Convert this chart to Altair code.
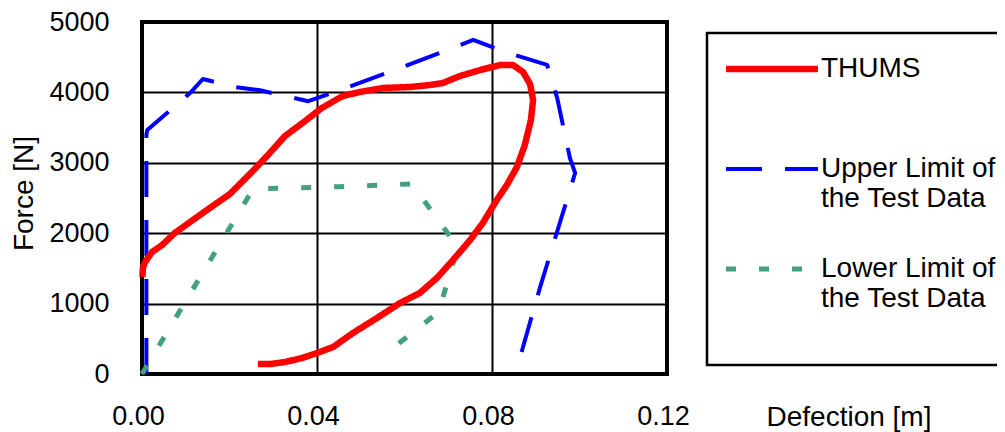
import altair as alt
import pandas as pd

series_names = ["THUMS", "Upper Limit of the Test Data", "Lower Limit of the Test Data"]
series_colors = ["#ff0000", "#0000ff", "#41a07f"]
series_dashes = [[1, 0], [36, 23], [10, 23]]
series_widths = [6.5, 4, 5]

thums_x = [0.0001, 0.0002, 0.0007, 0.0023, 0.0046, 0.0075, 0.011, 0.0155, 0.0201, 0.0251,
           0.0288, 0.0327, 0.0373, 0.0411, 0.0459, 0.0498, 0.0551, 0.0613, 0.0658, 0.0688,
           0.0727, 0.0773, 0.0818, 0.0848, 0.0871, 0.0887, 0.0894, 0.0889, 0.0875, 0.0857,
           0.0834, 0.0811, 0.0779, 0.075, 0.0711, 0.0674, 0.0635, 0.059, 0.0537, 0.0482,
           0.0437, 0.04, 0.0366, 0.0327, 0.0293, 0.0265]
thums_y = [1380, 1506, 1591, 1733, 1832, 2003, 2159, 2358, 2557, 2869,
           3111, 3381, 3594, 3779, 3949, 4006, 4063, 4077, 4105, 4134,
           4233, 4318, 4389, 4389, 4290, 4119, 3892, 3608, 3253, 2940,
           2685, 2472, 2145, 1903, 1619, 1364, 1151, 1009, 795, 582,
           384, 298, 227, 170, 142, 142]

upper_x = [0.001, 0.001, 0.0012, 0.0073, 0.0112, 0.0139, 0.0213, 0.027, 0.038, 0.046,
           0.059, 0.0757, 0.0837, 0.0926, 0.0949, 0.0978, 0.099, 0.091, 0.0862]
upper_y = [0, 3400, 3465, 3790, 4005, 4190, 4075, 4030, 3875, 4050,
           4345, 4745, 4560, 4390, 3920, 3070, 2855, 1235, 190]

lower_x = [0.0, 0.0254, 0.045, 0.0617, 0.0722, 0.0681, 0.0674, 0.0551]
lower_y = [0, 2630, 2660, 2700, 1800, 950, 860, 260]

x_ticks = [0.0, 0.04, 0.08, 0.12]
y_ticks = [0, 1000, 2000, 3000, 4000, 5000]

rows = []
for name, xs, ys in [(series_names[1], upper_x, upper_y),
                     (series_names[2], lower_x, lower_y),
                     (series_names[0], thums_x, thums_y)]:
    for i, (xv, yv) in enumerate(zip(xs, ys)):
        rows.append({"series": name, "i": i, "d": xv, "f": yv})
df = pd.DataFrame(rows)

label_expr = ("datum.label == 'THUMS' ? ['THUMS', ''] : "
              "datum.label == 'Upper Limit of the Test Data' ? ['Upper Limit of', 'the Test Data'] : "
              "['Lower Limit of', 'the Test Data', '']")

leg = alt.Legend(labelExpr=label_expr)

chart = alt.Chart(df).mark_line(strokeCap="butt", strokeJoin="round").encode(
    x=alt.X("d:Q",
            scale=alt.Scale(domain=[0, 0.12], nice=False, zero=False),
            axis=alt.Axis(values=x_ticks, format=".2f", title="Defection [m]",
                          labelFlush=False, labelOffset=-4, labelPadding=29,
                          titleX=624, titleY=29, titleAlign="left", titleBaseline="top",
                          titleAnchor="start")),
    y=alt.Y("f:Q",
            scale=alt.Scale(domain=[0, 5000], nice=False),
            axis=alt.Axis(values=y_ticks, format="d", title="Force [N]",
                          labelFlush=False, labelPadding=33,
                          titleX=-118, titleY=171, titleAngle=270,
                          titleAlign="center", titleBaseline="middle")),
    color=alt.Color("series:N", title=None,
                    scale=alt.Scale(domain=series_names, range=series_colors),
                    legend=leg),
    strokeDash=alt.StrokeDash("series:N", title=None,
                              scale=alt.Scale(domain=series_names, range=series_dashes),
                              legend=leg),
    strokeWidth=alt.StrokeWidth("series:N", title=None,
                                scale=alt.Scale(type="ordinal", domain=series_names,
                                                range=series_widths),
                                legend=leg),
    order=alt.Order("i:Q"),
).properties(
    width=525,
    height=352,
    autosize=alt.AutoSizeParams(type="none"),
    padding={"left": 134, "top": 14, "right": 330, "bottom": 58},
).configure_view(
    stroke="black", strokeWidth=4
).configure_axis(
    grid=True, gridColor="black", gridWidth=2, gridOpacity=1,
    domain=False, ticks=False,
    labelFont="Liberation Sans", labelFontSize=27, labelColor="black",
    titleFont="Liberation Sans", titleFontSize=28, titleFontWeight="normal",
    titleColor="black",
).configure_legend(
    orient="none", legendX=565, legendY=11, direction="vertical",
    strokeColor="black", strokeWidth=2.5, padding=22, fillColor="white",
    symbolType="M-17,0L75,0", symbolSize=4,
    labelFont="Liberation Sans", labelFontSize=28, labelColor="black",
    labelLimit=500, labelOffset=64, rowPadding=42,
)

chart.save("out.html", embed_options={"renderer": "svg", "actions": False})
